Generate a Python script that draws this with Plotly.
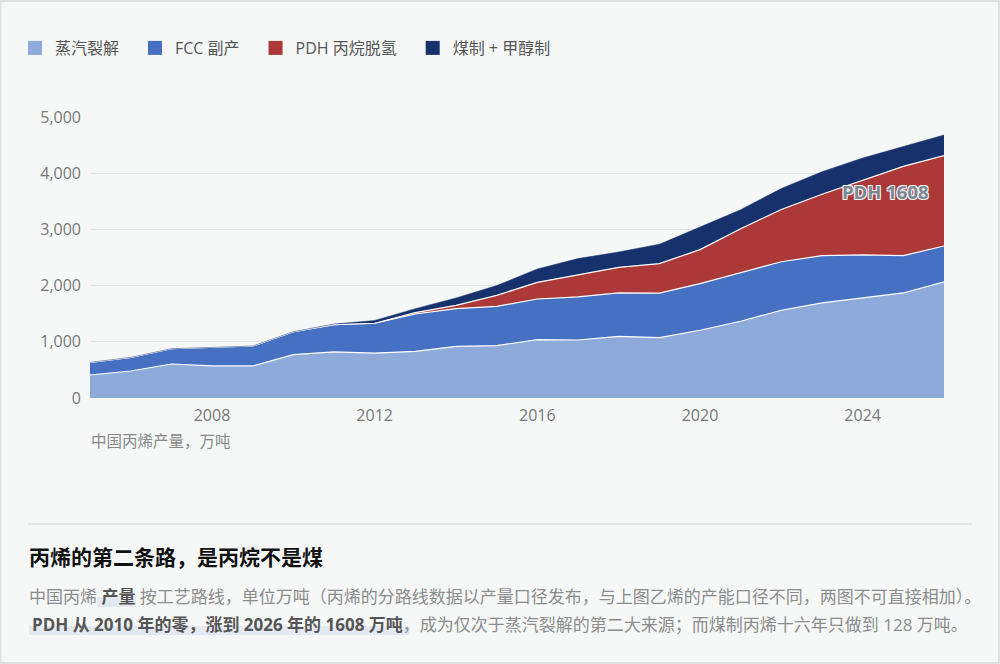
import plotly.graph_objects as go

# 中国丙烯产量（万吨），按工艺路线
years = list(range(2005, 2027))
steam_cracking = [409, 480, 605, 570, 570, 771, 819, 800, 829, 918, 931, 1038,
                  1032, 1097, 1073, 1205, 1365, 1561, 1692, 1787, 1869, 2065]
fcc_byproduct = [225, 243, 272, 331, 355, 409, 486, 530, 666, 672, 699, 724,
                 766, 772, 792, 830, 867, 864, 840, 758, 663, 640]
pdh = [0, 0, 0, 0, 0, 0, 0, 0, 25, 58, 196, 296,
       397, 456, 525, 605, 779, 930, 1093, 1325, 1590, 1608]
coal_methanol = [0, 0, 0, 0, 0, 0, 10, 50, 70, 132, 174, 238,
                 285, 274, 345, 402, 339, 373, 402, 400, 348, 367]

series_names = ["蒸汽裂解", "FCC 副产", "PDH 丙烷脱氢", "煤制 + 甲醇制"]
series_colors = ["#8eaadb", "#4671c3", "#ad3838", "#16316b"]
x_ticks = [2008, 2012, 2016, 2020, 2024]

FONT = "Open Sans, Noto Sans CJK SC, sans-serif"
BG = "#f6f8f8"

# plot area in pixels (1000 x 664 canvas)
L, R, T, B = 90, 944, 117, 398


def px(x):
    return (x - L) / (R - L)


def py(y):
    return (B - y) / (B - T)


fig = go.Figure()

for name, vals, color in zip(series_names,
                             [steam_cracking, fcc_byproduct, pdh, coal_methanol],
                             series_colors):
    is_top = name == series_names[-1]
    fig.add_trace(go.Scatter(
        x=years, y=vals, name=name, stackgroup="one", mode="lines",
        line=dict(color=color if is_top else "#ffffff", width=0.5 if is_top else 1.2),
        fillcolor=color, showlegend=False, hoverinfo="x+y+name",
    ))

# legend swatches (nbsp pads the gap between items)
for name, color in zip(series_names, series_colors):
    fig.add_trace(go.Scatter(
        x=[None], y=[None], mode="markers", name=name + "\u00a0\u00a0\u2009",
        marker=dict(symbol="square", size=14, color=color, line=dict(width=0)),
    ))

annotations = [
    dict(x=2024.55, y=3670, xref="x", yref="y", text="<b>PDH 1608</b>",
         showarrow=False, xanchor="center", yanchor="middle",
         font=dict(family=FONT, size=18.5, color="#7d8690",
                   shadow="1px 1px 0 #eef1f3, -1px -1px 0 #eef1f3, 1px -1px 0 #eef1f3, -1px 1px 0 #eef1f3")),
    dict(x=px(89), y=py(441), xref="paper", yref="paper", text="中国丙烯产量，万吨",
         showarrow=False, xanchor="left", yanchor="middle",
         font=dict(family=FONT, size=15.5, color="#888888")),
    dict(x=px(27), y=py(556), xref="paper", yref="paper",
         text="<b>丙烯的第二条路，是丙烷不是煤</b>",
         showarrow=False, xanchor="left", yanchor="middle",
         font=dict(family="Noto Sans CJK SC", size=21, color="#111111")),
    dict(x=px(27), y=py(596), xref="paper", yref="paper",
         text="中国丙烯 <b><span style='color:#555555'>产量</span></b> 按工艺路线，单位万吨（丙烯的分路线数据以产量口径发布，与上图乙烯的产能口径不同，两图不可直接相加）。",
         showarrow=False, xanchor="left", yanchor="middle",
         font=dict(family=FONT, size=17, color="#8c8c8c")),
    dict(x=px(30), y=py(624), xref="paper", yref="paper",
         text="<b><span style='color:#555555'>PDH 从 2010 年的零，涨到 2026 年的 1608 万吨</span></b>，成为仅次于蒸汽裂解的第二大来源；而煤制丙烯十六年只做到 128 万吨。",
         showarrow=False, xanchor="left", yanchor="middle",
         font=dict(family=FONT, size=17, color="#8c8c8c")),
]

shapes = [
    # card border
    dict(type="rect", xref="paper", yref="paper", x0=px(0.5), x1=px(999), y0=py(663), y1=py(1),
         line=dict(color="#e0e2e2", width=2), layer="below"),
    # separator
    dict(type="line", xref="paper", yref="paper", x0=px(28), x1=px(972), y0=py(524), y1=py(524),
         line=dict(color="#dddddd", width=1.5)),
    # highlights under bold text
    dict(type="rect", xref="paper", yref="paper", x0=px(97), x1=px(136), y0=py(607), y1=py(597),
         fillcolor="#e4e8f0", line=dict(width=0), layer="below"),
    dict(type="rect", xref="paper", yref="paper", x0=px(29), x1=px(410), y0=py(635), y1=py(626),
         fillcolor="#e4e8f0", line=dict(width=0), layer="below"),
]

fig.update_layout(
    width=1000, height=664,
    margin=dict(l=L, r=1000 - R, t=T, b=664 - B),
    paper_bgcolor=BG, plot_bgcolor=BG,
    font=dict(family=FONT, size=16, color="#777777"),
    showlegend=True,
    legend=dict(orientation="h", x=px(15), y=py(48), xanchor="left", yanchor="middle",
                font=dict(family=FONT, size=16, color="#555555"),
                bgcolor="rgba(0,0,0,0)", itemclick=False, traceorder="normal"),
    xaxis=dict(range=[2005, 2026], tickvals=x_ticks, showgrid=False, zeroline=False,
               showline=False, ticks="", ticklabelstandoff=6,
               tickfont=dict(size=16, color="#777777")),
    yaxis=dict(range=[0, 5000], tickvals=[0, 1000, 2000, 3000, 4000, 5000], tickformat=",",
               showgrid=True, gridcolor="#e4e6e6", gridwidth=1, zeroline=False,
               showline=False, ticks="", ticklabelstandoff=8,
               tickfont=dict(size=16, color="#777777")),
    annotations=annotations,
    shapes=shapes,
)

# page body has a default 8px margin; drop it so the figure sits at the window origin
fig.write_html("out.html", config={"displayModeBar": False},
               post_script="document.body.style.margin='0';")
